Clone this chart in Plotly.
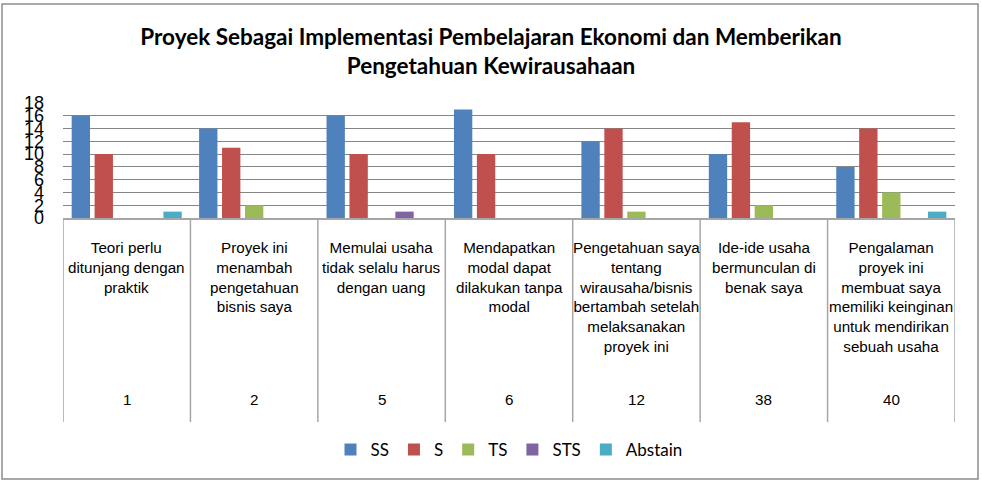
import plotly.graph_objects as go

categories = ["1", "2", "5", "6", "12", "38", "40"]
statements = [
    "Teori perlu<br>ditunjang dengan<br>praktik",
    "Proyek ini<br>menambah<br>pengetahuan<br>bisnis saya",
    "Memulai usaha<br>tidak selalu harus<br>dengan uang",
    "Mendapatkan<br>modal dapat<br>dilakukan tanpa<br>modal",
    "Pengetahuan saya<br>tentang<br>wirausaha/bisnis<br>bertambah setelah<br>melaksanakan<br>proyek ini",
    "Ide-ide usaha<br>bermunculan di<br>benak saya",
    "Pengalaman<br>proyek ini<br>membuat saya<br>memiliki keinginan<br>untuk mendirikan<br>sebuah usaha",
]
ss = [16, 14, 16, 17, 12, 10, 8]
s = [10, 11, 10, 10, 14, 15, 14]
ts = [0, 2, 0, 0, 1, 2, 4]
sts = [0, 0, 1, 0, 0, 0, 0]
abstain = [1, 0, 0, 0, 0, 0, 1]
y_ticks = list(range(0, 19, 2))

series = [
    ("SS", ss, "#4F81BD"),
    ("S", s, "#C0504D"),
    ("TS", ts, "#9BBB59"),
    ("STS", sts, "#8064A2"),
    ("Abstain", abstain, "#4BACC6"),
]

fig = go.Figure()
for name, vals, col in series:
    fig.add_trace(go.Bar(name=name, x=categories, y=vals, marker_color=col,
                         marker_line_width=0))

# pixel -> paper helpers (plot area: x 63..955, y 103..218)
L, R, T, B = 63, 955, 103, 218
W, H = R - L, B - T
def px(x):
    return (x - L) / W
def py(y):
    return (B - y) / H

shapes = []
# outer border
shapes.append(dict(type="rect", xref="paper", yref="paper",
                   x0=px(2), x1=px(978), y0=py(479), y1=py(4),
                   line=dict(color="#8c8c8c", width=1.5), layer="below"))
# table vertical lines
for i in range(len(categories) + 1):
    shapes.append(dict(type="line", xref="x", yref="paper",
                       x0=i - 0.5, x1=i - 0.5, y0=0, y1=py(422),
                       line=dict(color="#a6a6a6", width=1.5)))

annotations = []
for i, (c, st) in enumerate(zip(categories, statements)):
    annotations.append(dict(x=i, xref="x", y=py(237), yref="paper",
                            text=st, showarrow=False, yanchor="top",
                            xanchor="center", align="center",
                            font=dict(family="Liberation Sans, Arial", size=15.2, color="#000")))
    annotations.append(dict(x=i, xref="x", y=py(400), yref="paper",
                            text=c, showarrow=False, yanchor="middle",
                            font=dict(family="Liberation Sans, Arial", size=15.2, color="#000")))

fig.update_layout(
    width=982, height=482,
    margin=dict(l=L, r=982 - R, t=T, b=482 - B),
    paper_bgcolor="white", plot_bgcolor="white",
    title=dict(text="Proyek Sebagai Implementasi Pembelajaran Ekonomi dan Memberikan<br>Pengetahuan Kewirausahaan",
               x=0.5, xanchor="center", y=1 - 45 / 482, yanchor="middle",
               font=dict(family="Lato", size=22.5, color="#000", weight="bold")),
    barmode="group", bargap=0.1, bargroupgap=0.2,
    showlegend=True,
    legend=dict(orientation="h", x=0.5, xanchor="center",
                yref="container", y=1 - 450 / 482, yanchor="middle",
                font=dict(family="Lato", size=17, color="#000"),
                traceorder="normal"),
    shapes=shapes, annotations=annotations,
)
fig.update_xaxes(type="category", range=[-0.5, len(categories) - 0.5],
                 showticklabels=False, showgrid=False, showline=True,
                 linecolor="#a6a6a6", linewidth=1.5, ticks="", zeroline=False)
fig.update_yaxes(range=[0, 18], tickvals=y_ticks, showgrid=True,
                 gridcolor="#868686", gridwidth=1, zeroline=False, showline=False,
                 ticklabelstandoff=18,
                 tickfont=dict(family="Liberation Sans, Arial", size=18, color="#000"))

fig.write_html("out.html")
